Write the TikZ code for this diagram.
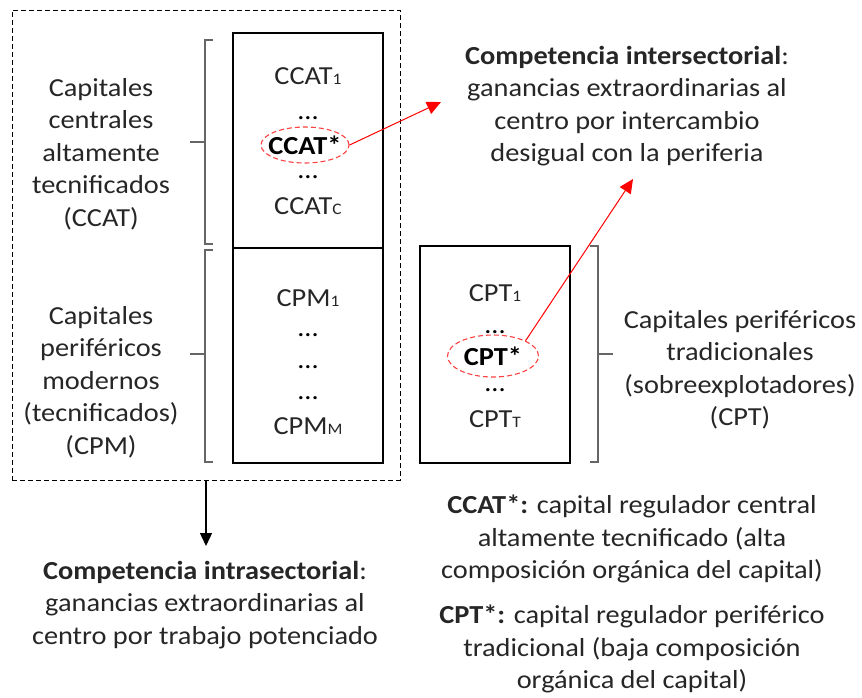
\documentclass[tikz,border=0pt]{standalone}
\usepackage{fontspec}
\setmainfont{Carlito}[FakeStretch=1.09]
\usetikzlibrary{shapes.geometric,arrows.meta}
\newcommand{\lowidx}[1]{{\fontsize{16}{16}\selectfont #1}}
\tikzset{
  txt/.style={align=center,font=\fontsize{26}{32.5}\selectfont,text=black!85,inner sep=0pt},
  dots/.style={anchor=base,font=\fontsize{26}{26}\selectfont,inner sep=0pt},
  colbox/.style={draw=black,line width=1.1pt,minimum width=150pt,inner sep=0pt},
  starmark/.style={ellipse,draw=red!75,dash pattern=on 5pt off 3pt,line width=1.1pt,inner sep=0pt,font=\fontsize{26}{28}\selectfont\bfseries},
  redarrow/.style={draw=red,line width=1pt,-{Triangle[length=14pt,width=13pt]}},
  blackarrow/.style={draw=black,line width=1.3pt,-{Triangle[length=13pt,width=12pt]}},
  bracket/.style={draw=black!60,line width=1.6pt}
}
\begin{document}
\begin{tikzpicture}[x=1pt,y=-1pt]
            \useasboundingbox (0,0) rectangle (862,697);

            % grupo central
            \node[draw=black,dash pattern=on 5pt off 3pt,line width=1pt,minimum width=388pt,minimum height=470pt,inner sep=0pt] (grupo) at (206,245) {};
            \node[colbox,minimum height=215pt] (ccatbox) at (308,140.5) {};
            \node[colbox,minimum height=215pt] (cpmbox) at (308,355.5) {};
            \node[colbox,minimum height=217pt] (cptbox) at (495,354.5) {};

            \node[txt] (ccatlbl) at (101,154) {Capitales\\centrales\\altamente\\tecnificados\\(CCAT)};
            \node[txt] (cpmlbl) at (101,382) {Capitales\\periféricos\\modernos\\(tecnificados)\\(CPM)};
            \node[txt] (cptlbl) at (740,370) {Capitales periféricos\\tradicionales\\(sobreexplotadores)\\(CPT)};

            % contenido de las cajas
            \node[txt] (ccat1) at (308,76) {CCAT\lowidx{1}};
            \node[dots] (ccatd1) at (308,119) {...};
            \node[starmark,minimum width=88pt,minimum height=36pt,inner xsep=-9pt] (ccatstar) at (305,145) {CCAT*};
            \node[dots] (ccatd2) at (308,178) {...};
            \node[txt] (ccatc) at (308,206) {CCAT\lowidx{C}};

            \node[txt] (cpm1) at (308,298) {CPM\lowidx{1}};
            \node[dots] (cpmd1) at (308,336) {...};
            \node[dots] (cpmd2) at (308,368) {...};
            \node[dots] (cpmd3) at (308,399) {...};
            \node[txt] (cpmm) at (308,426) {CPM\lowidx{M}};

            \node[txt] (cpt1) at (495,293) {CPT\lowidx{1}};
            \node[dots] (cptd1) at (495,333) {...};
            \node[starmark,minimum width=91pt,minimum height=42pt] (cptstar) at (493,356) {CPT*};
            \node[dots] (cptd2) at (495,391) {...};
            \node[txt] (cptt) at (495,419) {CPT\lowidx{T}};

            % llaves
            \draw[bracket] (213,40) -- (205,40) -- (205,244) -- (213,244);
            \draw[bracket] (205,142) -- (190,142);
            \draw[bracket] (213,250) -- (205,250) -- (205,462) -- (213,462);
            \draw[bracket] (205,354) -- (190,354);
            \draw[bracket] (590,246) -- (598,246) -- (598,462) -- (590,462);
            \draw[bracket] (598,354) -- (613,354);

            % textos
            \node[txt] (inter) at (627,106) {\textbf{Competencia intersectorial}:\\ganancias extraordinarias al\\centro por intercambio\\desigual con la periferia};
            \node[txt] (intra) at (205,605) {\textbf{Competencia intrasectorial}:\\ganancias extraordinarias al\\centro por trabajo potenciado};
            \node[txt] (defccat) at (632,539) {\textbf{CCAT*:} capital regulador central\\altamente tecnificado (alta\\composición orgánica del capital)};
            \node[txt] (defcpt) at (632,649) {\textbf{CPT*:} capital regulador periférico\\tradicional (baja composición\\orgánica del capital)};

            \coordinate (intertip) at (441,102);
            \coordinate (periftip) at (633,179);
            \coordinate (intratip) at (206,546);

            \path (ccatstar.east) edge[redarrow] (intertip);
            \path (cptstar.north east) edge[redarrow] (periftip);
            \path (grupo.south) edge[blackarrow] (intratip);
        \end{tikzpicture}
\end{document}
